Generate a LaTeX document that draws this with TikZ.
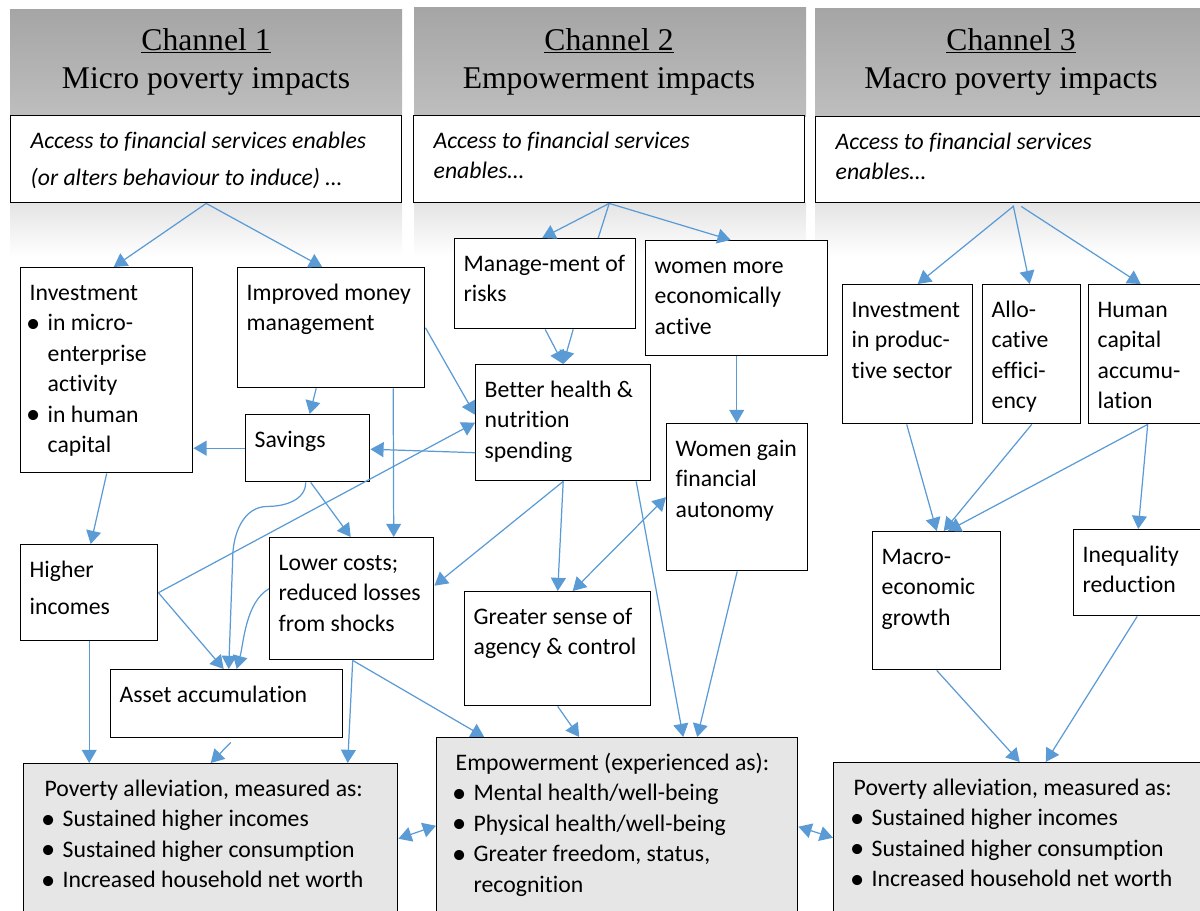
\documentclass[tikz,border=0pt]{standalone}
\usepackage{fontspec}
\setmainfont{Carlito}[Ligatures={NoCommon,NoContextual}]
\newfontfamily\headfont{Liberation Serif}
\usetikzlibrary{arrows.meta, calc}

\definecolor{linkblue}{HTML}{5B9BD5}
\definecolor{boxgrey}{HTML}{E7E6E6}
\definecolor{headtop}{HTML}{A5A5A5}
\definecolor{headbot}{HTML}{BEBEBE}
\definecolor{fadegrey}{HTML}{E4E4E4}

\newdimen\px \px=0.02cm
\newcommand{\boxtext}[4][9]{\parbox[t][#3\px][t]{#2\px}{\leftskip=#1\px\relax\vspace*{11.5\px}\strut#4}}
\newcommand{\itm}{\makebox[18\px][l]{\hspace*{-3.5\px}\raisebox{-1.5\px}{\scalebox{1.2}{\textbullet}}}}
\newcommand{\cont}{\hspace*{18\px}}

\tikzset{
  box/.style={draw, fill=white, line width=0.8pt, inner sep=0pt, anchor=north west},
  greybox/.style={box, fill=boxgrey},
  link/.style={draw=linkblue, line width=0.7pt, ->},
  twoway/.style={link, <->},
  head/.style={font=\headfont\fontsize{18}{21}\selectfont, anchor=base}
}

\begin{document}
\begin{tikzpicture}[x=0.02cm, y=0.02cm, >={Triangle[length=7.5pt,width=8.5pt]},
    font=\fontsize{13.5}{17.3}\selectfont]
  \useasboundingbox (0,0) rectangle (1200,-910);

  \shade[top color=headtop, bottom color=headbot] (10,-9) rectangle (402,-116);
  \shade[top color=fadegrey, bottom color=white] (10,-202) rectangle (402,-256);
  \shade[top color=headtop, bottom color=headbot] (414,-7) rectangle (806,-116);
  \shade[top color=fadegrey, bottom color=white] (414,-202) rectangle (806,-256);
  \shade[top color=headtop, bottom color=headbot] (815,-8) rectangle (1200,-116);
  \shade[top color=fadegrey, bottom color=white] (815,-202) rectangle (1200,-256);

  \node[head] (ch1t) at (206,-50) {\underline{Channel 1}};
  \node[head] (ch1s) at (206,-88) {Micro poverty impacts};
  \node[head] (ch2t) at (609,-50) {\underline{Channel 2}};
  \node[head] (ch2s) at (609,-88) {Empowerment impacts};
  \node[head] (ch3t) at (1011,-50) {\underline{Channel 3}};
  \node[head] (ch3s) at (1011,-88) {Macro poverty impacts};

  \node[box] (ch1) at (10,-115) {\boxtext[20]{391}{87}{\itshape Access to financial services enables\\[7\px](or alters behaviour to induce) …}};
  \node[box] (ch2) at (413,-115) {\boxtext[20]{391}{87}{\itshape Access to financial services\\enables…}};
  \node[box] (ch3) at (815,-116) {\boxtext[20]{395}{86}{\itshape Access to financial services\\enables…}};

  % channel 1
  \node[box] (inv) at (20,-267) {\boxtext{172}{205}{Investment\\\itm in micro-\\\cont enterprise\\\cont activity\\\itm in human\\\cont capital}};
  \node[box] (money) at (237,-267) {\boxtext{187}{120}{Improved money\\management}};
  \node[box] (sav) at (245,-414) {\boxtext{124}{67}{Savings}};
  \node[box] (high) at (20,-544) {\boxtext{137}{96}{Higher\\[7\px]incomes}};
  \node[box] (low) at (269,-537) {\boxtext{164}{122}{Lower costs;\\reduced losses\\from shocks}};
  \node[box] (asset) at (110,-669) {\boxtext{232}{68}{Asset accumulation}};
  \node[greybox] (pov1) at (23,-763) {\boxtext[21]{374}{170}{Poverty alleviation, measured as:\\\itm Sustained higher incomes\\\itm Sustained higher consumption\\\itm Increased household net worth}};

  % channel 2
  \node[box] (risk) at (454,-238) {\boxtext{181}{90}{Manage-ment of\\risks}};
  \node[box] (women) at (645,-240) {\boxtext{182}{115}{women more\\economically\\active}};
  \node[box] (health) at (475,-364) {\boxtext{175}{116}{Better health \&\\nutrition\\spending}};
  \node[box] (auton) at (666,-423) {\boxtext{141}{147}{Women gain\\financial\\autonomy}};
  \node[box] (agency) at (464,-591) {\boxtext{186}{114}{Greater sense of\\agency \& control}};
  \node[greybox] (emp) at (436,-737) {\boxtext[19]{361}{190}{Empowerment (experienced as):\\\itm Mental health/well-being\\\itm Physical health/well-being\\\itm Greater freedom, status,\\\cont recognition}};

  % channel 3
  \node[box] (prod) at (842,-284) {\boxtext{130}{139}{Investment\\in produc-\\tive sector}};
  \node[box] (alloc) at (982,-284) {\boxtext{98}{139}{Allo-\\cative\\effici-\\ency}};
  \node[box] (human) at (1088,-284) {\boxtext{125}{139}{Human\\capital\\accumu-\\lation}};
  \node[box] (macro) at (872,-531) {\boxtext{128}{138}{Macro-\\economic\\growth}};
  \node[box] (ineq) at (1073,-529) {\boxtext{135}{86}{Inequality\\reduction}};
  \node[greybox] (pov3) at (833,-762) {\boxtext[20]{380}{170}{Poverty alleviation, measured as:\\\itm Sustained higher incomes\\\itm Sustained higher consumption\\\itm Increased household net worth}};

  \draw[link] (ch1.south) -- ($(inv.north)+(7,0)$);
  \draw[link] (ch1.south) -- ($(money.north)+(-9,0)$);
  \draw[link] ($(money.south)+(-15,0)$) -- ($(sav.north)+(2,0)$);
  \draw[link] ($(money.south)+(62,0)$) -- ($(low.north)+(42,0)$);
  \draw[link] (money.east) -- ($(health.west)+(0,8)$);
  \draw[link] (sav.west) -- (inv.east |- sav.west);
  \draw[link] ($(health.west)+(0,-30)$) -- ($(sav.east)+(0,-1)$);
  \draw[link] (high.east) -- (health.west);
  \draw[link] (high.east) -- ($(asset.north)+(-3,0)$);
  \draw[link] ($(sav.south)+(-2,0)$) to[out=-90,in=0] ++(-38,-24) to[out=180,in=90] ++(-35,-52) -- ($(asset.north)+(2,0)$);
  \draw[link] ($(sav.south)+(3,0)$) -- ($(low.north)+(-1,0)$);
  \draw[link] ($(low.west)+(0,10)$) to[out=210,in=75,looseness=0.8] ($(asset.north)+(10,0)$);
  \draw[link] (inv.south) -- ($(high.north)+(1.5,0)$);
  \draw[link] (high.south) -- (high.south |- pov1.north);
  \draw[link] ($(asset.south)+(4,-4)$) -- (pov1.north);
  \draw[link] ($(low.south)+(1,0)$) -- ($(pov1.north)+(137,0)$);
  \draw[link] ($(low.south)+(1,0)$) -- ($(emp.north)+(-133,0)$);

  \draw[link] (ch2.south) -- ($(risk.north)+(-3,0)$);
  \draw[link, -] (ch2.south) -- ($(risk.north)+(53,0)$);
  \draw[link] (ch2.south) -- ($(women.north)+(-6,0)$);
  \draw[link] (risk.south) -- (health.north);
  \draw[link] ($(risk.south)+(28,0)$) -- (health.north);
  \draw[link] (women.south) -- (women.south |- auton.north);
  \draw[link] (health.south) -- ($(low.east)+(0,13)$);
  \draw[link] (health.south) -- (agency.north);
  \draw[link] ($(health.south)+(73,0)$) -- ($(emp.north)+(66,0)$);
  \draw[twoway] (auton.west) -- ($(agency.north)+(15,0)$);
  \draw[link] (auton.south) -- ($(emp.north)+(80,0)$);
  \draw[link] (agency.south) -- ($(emp.north)+(-38,0)$);

  \draw[link] ($(ch3.south)+(0,-3)$) -- ($(prod.north)+(10,0)$);
  \draw[link] ($(ch3.south)+(0,-2)$) -- ($(alloc.north)+(-2,0)$);
  \draw[link] ($(ch3.south)+(8,-3)$) -- ($(human.north)+(-10.5,0)$);
  \draw[link] ($(prod.south)+(-1,0)$) -- (macro.north);
  \draw[link] (alloc.south) -- ($(macro.north)+(7,0)$);
  \draw[link] ($(human.south)+(-3.5,0)$) -- ($(macro.north)+(11,0)$);
  \draw[link] ($(human.south)+(-3.5,0)$) -- ($(ineq.north)+(-3,0)$);
  \draw[link] (macro.south) -- ($(pov3.north)+(-4,0)$);
  \draw[link] ($(ineq.south)+(-4,0)$) -- ($(pov3.north)+(22,0)$);

  \draw[twoway] ($(pov1.east)+(0,10)$) -- ($(emp.west)+(0,7)$);
  \draw[twoway] ($(emp.east)+(0,6)$) -- ($(pov3.west)+(0,10)$);
\end{tikzpicture}
\end{document}
